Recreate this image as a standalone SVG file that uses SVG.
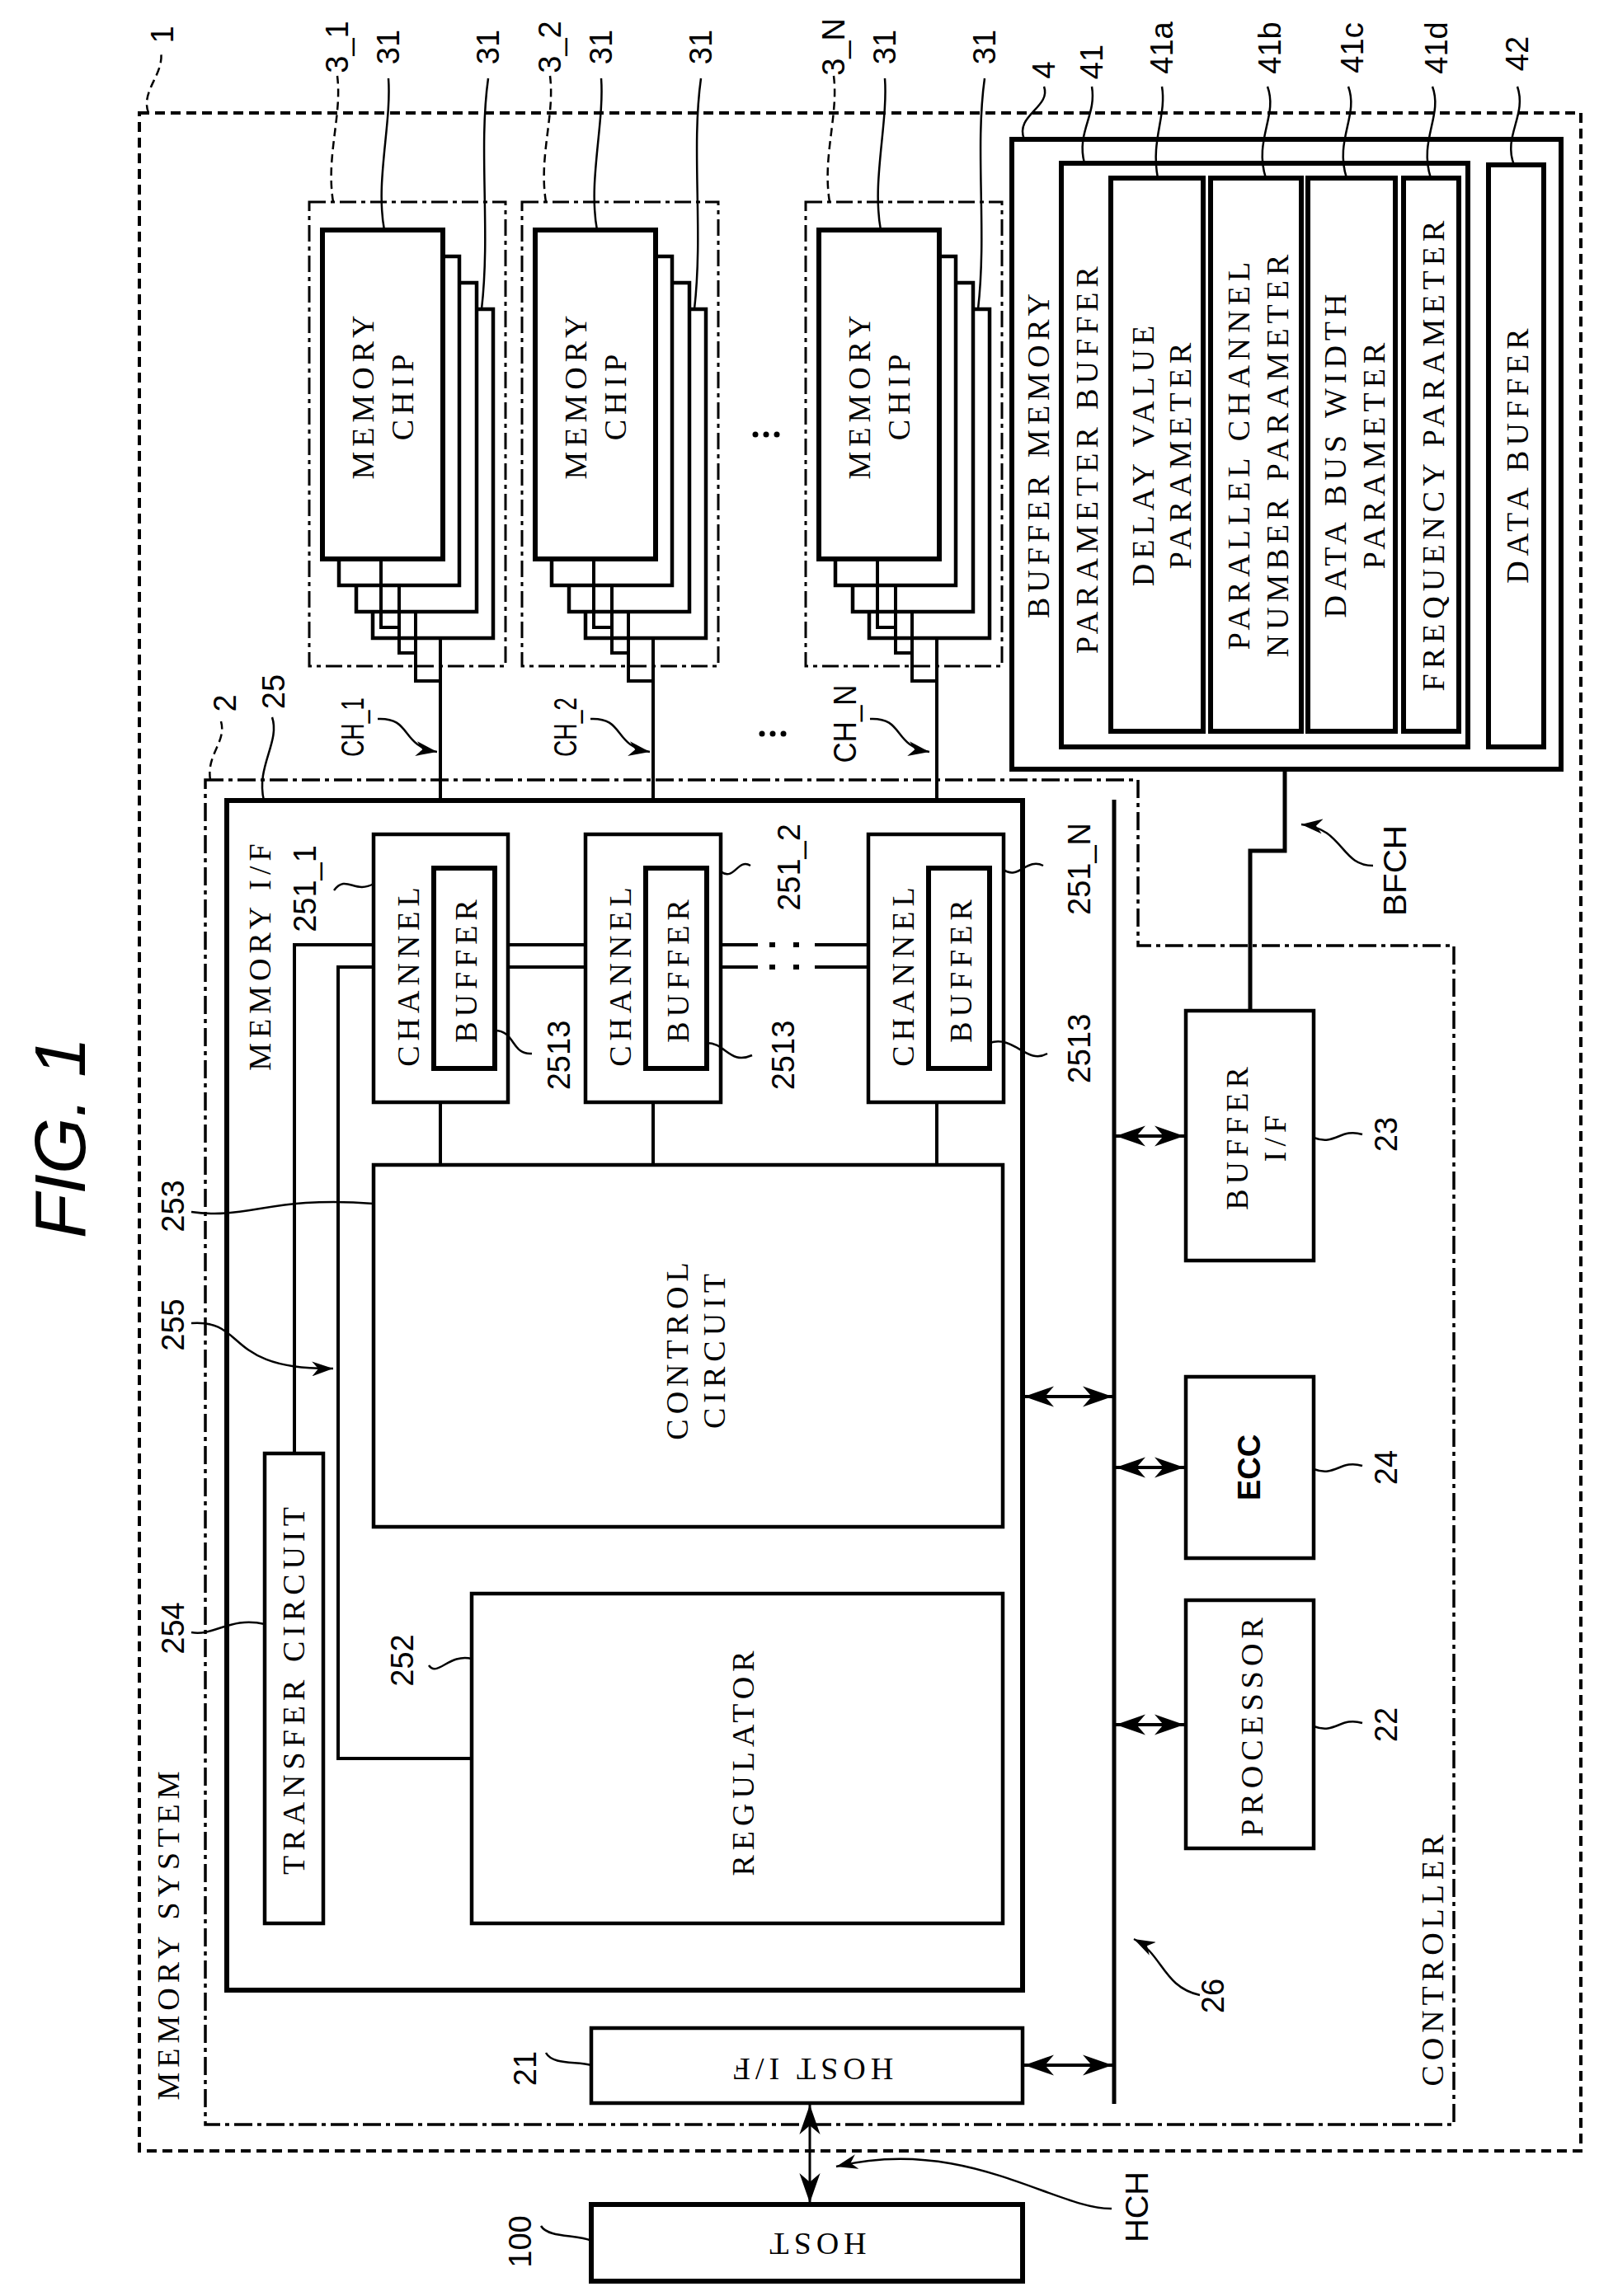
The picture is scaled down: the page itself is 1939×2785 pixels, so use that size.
<svg xmlns="http://www.w3.org/2000/svg" width="1939" height="2785" viewBox="0 0 1939 2785">
<style>
.b{fill:#fff;stroke:#000;stroke-width:6}
.m{fill:#fff;stroke:#000;stroke-width:4.5}
.w{fill:none;stroke:#000;stroke-width:4}
.l{fill:none;stroke:#000;stroke-width:2.5}
.ld{fill:none;stroke:#000;stroke-width:2.5;stroke-dasharray:10 6}
.t{font-family:"Liberation Serif","Times New Roman",serif;font-size:38px;letter-spacing:6px;text-anchor:middle;dominant-baseline:central}
.n{font-family:"Liberation Sans",Arial,sans-serif;font-size:38px;text-anchor:middle;dominant-baseline:central}
</style>
<defs>
<marker id="a" viewBox="0 0 20 14" markerUnits="userSpaceOnUse" markerWidth="36" markerHeight="26" refX="20" refY="7" orient="auto-start-reverse"><path d="M0,0 L20,7 L0,14 L6,7 z"/></marker>
<marker id="s" viewBox="0 0 20 14" markerUnits="userSpaceOnUse" markerWidth="26" markerHeight="18" refX="20" refY="7" orient="auto"><path d="M0,0 L20,7 L0,14 L6,7 z"/></marker>
<g id="stack">
<rect class="m" x="452" y="375" width="146" height="399"/>
<rect class="m" x="432" y="343" width="146" height="399"/>
<rect class="m" x="411" y="311" width="146" height="399"/>
<rect class="b" x="391" y="279" width="146" height="399"/>
<polyline class="w" points="462,678 462,761 484,761"/>
<polyline class="w" points="484,710 484,792 504,792"/>
<polyline class="w" points="504,742 504,826 534,826"/>
<line class="w" x1="534" y1="774" x2="534" y2="1012"/>
<text class="t" transform="translate(440,479) rotate(-90)">MEMORY</text>
<text class="t" transform="translate(488,479) rotate(-90)">CHIP</text>
<rect x="375" y="245" width="238" height="563" fill="none" stroke="#000" stroke-width="3" stroke-dasharray="20 6 5 6"/>
<path class="ld" d="M404,245 C395,190 415,140 409,92"/>
<path class="l" d="M466,279 C455,220 475,150 471,95"/>
<path class="l" d="M584,375 C595,280 580,180 592,95"/>
</g>
</defs>

<text font-family="Liberation Sans,Arial,sans-serif" font-style="italic" font-size="88" text-anchor="middle" dominant-baseline="central" transform="translate(72,1380) rotate(-90)">FIG. 1</text>

<g id="memory-system">
<rect x="169" y="137" width="1748" height="2472" fill="none" stroke="#000" stroke-width="4" stroke-dasharray="12 7"/>
<text class="t" transform="translate(204,2345) rotate(-90)">MEMORY SYSTEM</text>
<text class="n" transform="translate(197,42) rotate(-90)">1</text>
<path class="ld" d="M180,137 C170,110 200,90 195,62"/>
</g>

<g id="controller">
<polygon points="249,946 1380,946 1380,1147 1763,1147 1763,2577 249,2577" fill="none" stroke="#000" stroke-width="3.5" stroke-dasharray="22 6 5 6"/>
<text class="t" transform="translate(1737,2375) rotate(-90)">CONTROLLER</text>
<text class="n" transform="translate(273,853) rotate(-90)">2</text>
<path class="ld" d="M255,946 C250,915 275,900 268,875"/>
</g>

<g id="chips3_1"><use href="#stack"/></g>
<g id="chips3_2"><use href="#stack" x="258"/></g>
<g id="chips3_N"><use href="#stack" x="602"/></g>
<g id="chip-labels">
<text class="n" transform="translate(409,57) rotate(-90)">3_1</text>
<text class="n" transform="translate(471,57) rotate(-90)">31</text>
<text class="n" transform="translate(592,57) rotate(-90)">31</text>
<text class="n" transform="translate(667,57) rotate(-90)">3_2</text>
<text class="n" transform="translate(729,57) rotate(-90)">31</text>
<text class="n" transform="translate(850,57) rotate(-90)">31</text>
<text class="n" transform="translate(1011,57) rotate(-90)">3_N</text>
<text class="n" transform="translate(1073,57) rotate(-90)">31</text>
<text class="n" transform="translate(1194,57) rotate(-90)">31</text>
<circle cx="916" cy="527" r="3.5"/><circle cx="929" cy="527" r="3.5"/><circle cx="942" cy="527" r="3.5"/>
</g>

<g id="buffer-memory">
<rect class="b" x="1227" y="169" width="666" height="764"/>
<rect class="b" x="1287" y="198" width="493" height="708"/>
<rect class="b" x="1347" y="216" width="112" height="671"/>
<rect class="b" x="1468" y="216" width="110" height="671"/>
<rect class="b" x="1586" y="216" width="106" height="671"/>
<rect class="b" x="1702" y="216" width="67" height="671"/>
<rect class="b" x="1805" y="200" width="67" height="706"/>
<text class="t" transform="translate(1259,550) rotate(-90)">BUFFER MEMORY</text>
<text class="t" transform="translate(1318,555) rotate(-90)">PARAMETER BUFFER</text>
<text class="t" transform="translate(1386,550) rotate(-90)">DELAY VALUE</text>
<text class="t" transform="translate(1431,550) rotate(-90)">PARAMETER</text>
<text class="t" transform="translate(1502,550) rotate(-90)">PARALLEL CHANNEL</text>
<text class="t" transform="translate(1549,550) rotate(-90)">NUMBER PARAMETER</text>
<text class="t" transform="translate(1619,550) rotate(-90)">DATA BUS WIDTH</text>
<text class="t" transform="translate(1666,550) rotate(-90)">PARAMETER</text>
<text class="t" transform="translate(1738,550) rotate(-90)">FREQUENCY PARAMETER</text>
<text class="t" transform="translate(1840,550) rotate(-90)">DATA BUFFER</text>
<text class="n" transform="translate(1266,85) rotate(-90)">4</text>
<text class="n" transform="translate(1324,75) rotate(-90)">41</text>
<text class="n" transform="translate(1409,58) rotate(-90)">41a</text>
<text class="n" transform="translate(1540,58) rotate(-90)">41b</text>
<text class="n" transform="translate(1640,58) rotate(-90)">41c</text>
<text class="n" transform="translate(1742,58) rotate(-90)">41d</text>
<text class="n" transform="translate(1840,65) rotate(-90)">42</text>
<path class="l" d="M1242,169 C1230,140 1275,130 1266,105"/>
<path class="l" d="M1315,198 C1305,160 1330,140 1324,105"/>
<path class="l" d="M1404,216 C1395,170 1415,140 1409,105"/>
<path class="l" d="M1535,216 C1520,170 1550,140 1537,105"/>
<path class="l" d="M1633,216 C1618,170 1648,140 1635,105"/>
<path class="l" d="M1735,216 C1720,170 1750,140 1737,105"/>
<path class="l" d="M1836,200 C1822,165 1852,140 1840,105"/>
</g>

<g id="memory-if">
<rect class="b" x="275" y="971" width="965" height="1443"/>
<text class="t" transform="translate(315,1158) rotate(-90)">MEMORY I/F</text>
<text class="n" transform="translate(332,839) rotate(-90)">25</text>
<path class="l" d="M320,971 C310,930 340,900 330,870"/>
</g>

<g id="ch251_1">
<rect class="m" x="453" y="1012" width="163" height="325"/>
<rect class="b" x="526" y="1053" width="74" height="243"/>
<text class="t" transform="translate(495,1182) rotate(-90)">CHANNEL</text>
<text class="t" transform="translate(565,1175) rotate(-90)">BUFFER</text>
</g>
<g id="ch251_2">
<rect class="m" x="710" y="1012" width="164" height="325"/>
<rect class="b" x="783" y="1053" width="74" height="243"/>
<text class="t" transform="translate(752,1182) rotate(-90)">CHANNEL</text>
<text class="t" transform="translate(822,1175) rotate(-90)">BUFFER</text>
</g>
<g id="ch251_N">
<rect class="m" x="1053" y="1012" width="164" height="325"/>
<rect class="b" x="1126" y="1053" width="74" height="243"/>
<text class="t" transform="translate(1095,1182) rotate(-90)">CHANNEL</text>
<text class="t" transform="translate(1165,1175) rotate(-90)">BUFFER</text>
</g>
<g id="ch-labels">
<text class="n" transform="translate(370,1078) rotate(-90)">251_1</text>
<path class="l" d="M405,1080 C420,1060 430,1085 453,1072"/>
<text class="n" transform="translate(957,1052) rotate(-90)">251_2</text>
<path class="l" d="M874,1057 C890,1070 895,1040 910,1050"/>
<text class="n" transform="translate(1309,1054) rotate(-90)">251_N</text>
<path class="l" d="M1217,1055 C1235,1068 1245,1040 1265,1050"/>
<text class="n" transform="translate(678,1280) rotate(-90)">2513</text>
<path class="l" d="M600,1250 C625,1250 620,1280 645,1278"/>
<text class="n" transform="translate(950,1280) rotate(-90)">2513</text>
<path class="l" d="M857,1265 C880,1265 885,1292 912,1280"/>
<text class="n" transform="translate(1309,1272) rotate(-90)">2513</text>
<path class="l" d="M1200,1265 C1230,1255 1245,1292 1270,1278"/>
</g>

<g id="control-circuit">
<rect class="m" x="453" y="1413" width="763" height="439"/>
<text class="t" transform="translate(821,1636) rotate(-90)">CONTROL</text>
<text class="t" transform="translate(866,1636) rotate(-90)">CIRCUIT</text>
<text class="n" transform="translate(210,1463) rotate(-90)">253</text>
<path class="l" d="M232,1470 C300,1480 330,1450 453,1460"/>
</g>
<g id="regulator">
<rect class="m" x="572" y="1933" width="644" height="400"/>
<text class="t" transform="translate(901,2136) rotate(-90)">REGULATOR</text>
<text class="n" transform="translate(488,2014) rotate(-90)">252</text>
<path class="l" d="M520,2020 C530,2035 545,2005 572,2012"/>
</g>
<g id="transfer-circuit">
<rect class="m" x="321" y="1763" width="71" height="570"/>
<text class="t" transform="translate(356,2048) rotate(-90)">TRANSFER CIRCUIT</text>
<text class="n" transform="translate(210,1975) rotate(-90)">254</text>
<path class="l" d="M232,1980 C260,1985 280,1960 321,1970"/>
</g>

<g id="controller-blocks">
<rect class="m" x="1438" y="1226" width="155" height="303"/>
<text class="t" transform="translate(1500,1378) rotate(-90)">BUFFER</text>
<text class="t" transform="translate(1546,1378) rotate(-90)">I/F</text>
<rect class="m" x="1438" y="1670" width="155" height="220"/>
<text class="n" font-weight="bold" font-size="42" transform="translate(1515,1780) rotate(-90)">ECC</text>
<rect class="m" x="1438" y="1941" width="155" height="301"/>
<text class="t" transform="translate(1518,2092) rotate(-90)">PROCESSOR</text>
<text class="n" transform="translate(1681,1376) rotate(-90)">23</text>
<text class="n" transform="translate(1681,1780) rotate(-90)">24</text>
<text class="n" transform="translate(1681,2092) rotate(-90)">22</text>
<path class="l" d="M1593,1380 C1620,1390 1625,1368 1652,1376"/>
<path class="l" d="M1593,1782 C1620,1792 1625,1770 1652,1778"/>
<path class="l" d="M1593,2094 C1620,2104 1625,2082 1652,2090"/>
<rect class="m" x="717" y="2460" width="523" height="91"/>
<text class="t" transform="translate(983,2510) rotate(180)">HOST I/F</text>
<text class="n" transform="translate(637,2509) rotate(-90)">21</text>
<path class="l" d="M662,2490 C670,2505 700,2500 717,2505"/>
</g>
<g id="host">
<rect class="b" x="717" y="2674" width="523" height="93"/>
<text class="t" transform="translate(989,2722) rotate(180)">HOST</text>
<text class="n" transform="translate(631,2719) rotate(-90)">100</text>
<path class="l" d="M656,2700 C665,2715 700,2710 717,2718"/>
</g>

<g id="connectors">
<line x1="1351" y1="970" x2="1351" y2="2552" stroke="#000" stroke-width="5"/>
<line class="w" x1="534" y1="1337" x2="534" y2="1413"/>
<line class="w" x1="792" y1="1337" x2="792" y2="1413"/>
<line class="w" x1="1136" y1="1337" x2="1136" y2="1413"/>
<line class="w" x1="616" y1="1146" x2="710" y2="1146"/>
<line class="w" x1="616" y1="1173" x2="710" y2="1173"/>
<line class="w" x1="874" y1="1146" x2="919" y2="1146"/>
<line class="w" x1="874" y1="1173" x2="919" y2="1173"/>
<line class="w" x1="988" y1="1146" x2="1053" y2="1146"/>
<line class="w" x1="988" y1="1173" x2="1053" y2="1173"/>
<g stroke="#000" stroke-width="6"><line x1="933" y1="1146" x2="940" y2="1146"/><line x1="962" y1="1146" x2="969" y2="1146"/><line x1="933" y1="1173" x2="940" y2="1173"/><line x1="962" y1="1173" x2="969" y2="1173"/></g>
<polyline class="w" points="357,1763 357,1146 453,1146"/>
<polyline class="w" points="453,1173 410,1173 410,2133 572,2133"/>
<polyline points="1558,933 1558,1032 1516,1032 1516,1226" fill="none" stroke="#000" stroke-width="5"/>
<line class="w" x1="1242" y1="1694" x2="1349" y2="1694" marker-start="url(#a)" marker-end="url(#a)"/>
<line class="w" x1="1353" y1="1378" x2="1436" y2="1378" marker-start="url(#a)" marker-end="url(#a)"/>
<line class="w" x1="1353" y1="1780" x2="1436" y2="1780" marker-start="url(#a)" marker-end="url(#a)"/>
<line class="w" x1="1353" y1="2092" x2="1436" y2="2092" marker-start="url(#a)" marker-end="url(#a)"/>
<line class="w" x1="1242" y1="2505" x2="1349" y2="2505" marker-start="url(#a)" marker-end="url(#a)"/>
<line x1="982" y1="2553" x2="982" y2="2672" stroke="#000" stroke-width="3" marker-start="url(#a)" marker-end="url(#a)"/>
<text class="n" font-size="40" textLength="72" lengthAdjust="spacingAndGlyphs" transform="translate(428,882) rotate(-90)">CH_1</text>
<text class="n" font-size="40" textLength="72" lengthAdjust="spacingAndGlyphs" transform="translate(686,882) rotate(-90)">CH_2</text>
<text class="n" font-size="40" textLength="95" lengthAdjust="spacingAndGlyphs" transform="translate(1025,878) rotate(-90)">CH_N</text>
<circle cx="924" cy="890" r="3.5"/><circle cx="937" cy="890" r="3.5"/><circle cx="950" cy="890" r="3.5"/>
<path class="l" d="M458,872 C500,870 485,905 530,912" marker-end="url(#s)"/>
<path class="l" d="M716,872 C758,870 743,905 788,912" marker-end="url(#s)"/>
<path class="l" d="M1055,872 C1097,870 1082,905 1127,912" marker-end="url(#s)"/>
<text class="n" transform="translate(210,1607) rotate(-90)">255</text>
<path class="l" d="M232,1605 C300,1600 270,1662 404,1660" marker-end="url(#s)"/>
<text class="n" font-size="40" textLength="110" lengthAdjust="spacingAndGlyphs" transform="translate(1692,1056) rotate(-90)">BFCH</text>
<path class="l" d="M1665,1050 C1625,1050 1630,1005 1578,1000" marker-end="url(#s)"/>
<text class="n" transform="translate(1471,2421) rotate(-90)">26</text>
<path class="l" d="M1455,2420 C1410,2410 1410,2370 1375,2352" marker-end="url(#s)"/>
<text class="n" font-size="40" textLength="86" lengthAdjust="spacingAndGlyphs" transform="translate(1379,2677) rotate(-90)">HCH</text>
<path class="l" d="M1348,2679 C1280,2680 1170,2590 1014,2628" marker-end="url(#s)"/>
</g>
</svg>
